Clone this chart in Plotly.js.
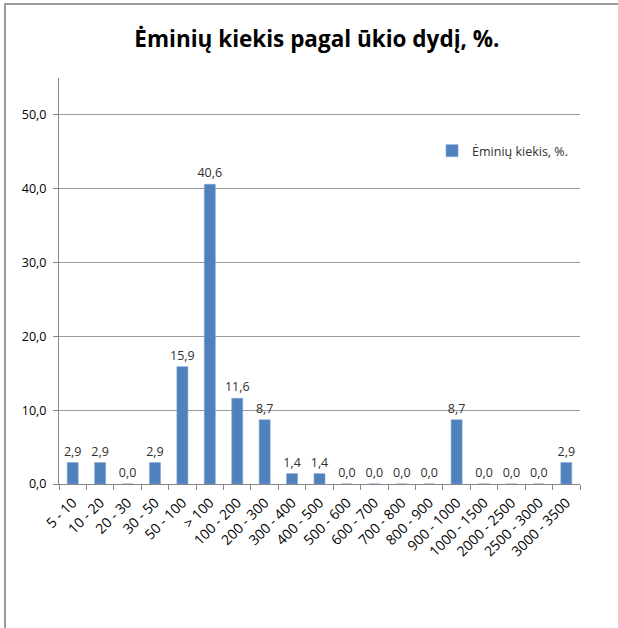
<!DOCTYPE html>
<html>
<head>
<meta charset="utf-8">
<script src="https://cdn.plot.ly/plotly-3.0.1.min.js"></script>
<style>
  html, body { margin: 0; padding: 0; background: #fff; overflow: hidden; }
</style>
</head>
<body>
<div id="chart" style="width:618px;height:628px;"></div>
<script>
const categories = ["5 - 10", "10 - 20", "20 - 30", "30 - 50", "50 - 100", "> 100",
  "100 - 200", "200 - 300", "300 - 400", "400 - 500", "500 - 600", "600 - 700",
  "700 - 800", "800 - 900", "900 - 1000", "1000 - 1500", "2000 - 2500",
  "2500 - 3000", "3000 - 3500"];
const values = [2.9, 2.9, 0.0, 2.9, 15.9, 40.6, 11.6, 8.7, 1.4, 1.4, 0.0, 0.0,
  0.0, 0.0, 8.7, 0.0, 0.0, 0.0, 2.9];
const seriesName = "Ėminių kiekis, %.";
const titleText = "Ėminių kiekis pagal ūkio dydį, %.";
const yTicks = [0, 10, 20, 30, 40, 50];

const font = "Open Sans, Liberation Sans, sans-serif";

const W = 618, H = 628;
const M = { l: 59, r: 38, t: 78, b: 144 };
const pw = W - M.l - M.r, ph = H - M.t - M.b;
// outer chart frame (left and top edges), in paper coordinates
const fx = (px) => (px - M.l) / pw;
const fy = (py) => (H - M.b - py) / ph;

const trace = {
  type: "bar",
  x: categories,
  y: values,
  name: seriesName,
  marker: { color: "#4F81BD", line: { color: "#7EA1CF", width: 0.6 } },
  text: values,
  texttemplate: "%{y:.1f}",
  textposition: "outside",
  constraintext: "none",
  cliponaxis: false,
  textfont: { family: font, size: 12.5, color: "#303030" },
  hoverinfo: "none"
};

const layout = {
  width: W,
  height: H,
  margin: M,
  paper_bgcolor: "#fff",
  plot_bgcolor: "#fff",
  separators: ",.",
  bargap: 0.6,
  showlegend: true,
  title: {
    text: titleText,
    font: { family: font, size: 22.5, color: "#000", weight: "bold" },
    x: 0.495, xref: "paper", xanchor: "center",
    y: 37, yref: "container", yanchor: "middle"
  },
  legend: {
    x: 0.716, y: 0.82, xanchor: "left", yanchor: "middle",
    font: { family: font, size: 12.5, color: "#303030" },
    bgcolor: "rgba(0,0,0,0)",
    itemwidth: 30
  },
  shapes: [
    { type: "line", xref: "paper", yref: "paper", x0: fx(5), x1: fx(5), y0: fy(4), y1: fy(H + 2),
      line: { color: "#9a9a9a", width: 2 } },
    { type: "line", xref: "paper", yref: "paper", x0: fx(4), x1: fx(W + 2), y0: fy(4), y1: fy(4),
      line: { color: "#9a9a9a", width: 2 } }
  ],
  xaxis: {
    type: "category",
    tickson: "boundaries",
    ticks: "outside",
    ticklen: 5,
    tickcolor: "#868686",
    ticklabelstandoff: 4,
    showline: true,
    linecolor: "#868686",
    linewidth: 1,
    tickangle: -45,
    tickfont: { family: font, size: 14, color: "#000" },
    showgrid: false,
    zeroline: false
  },
  yaxis: {
    range: [0, 55],
    tickvals: yTicks,
    tickformat: ".1f",
    ticks: "outside",
    ticklen: 5,
    tickcolor: "#868686",
    ticklabelstandoff: 4,
    showline: true,
    linecolor: "#868686",
    linewidth: 1,
    showgrid: true,
    gridcolor: "#9a9a9a",
    gridwidth: 1,
    zeroline: false,
    tickfont: { family: font, size: 12.5, color: "#000" }
  }
};

Plotly.newPlot("chart", [trace], layout, { staticPlot: true, displayModeBar: false });
</script>
</body>
</html>
